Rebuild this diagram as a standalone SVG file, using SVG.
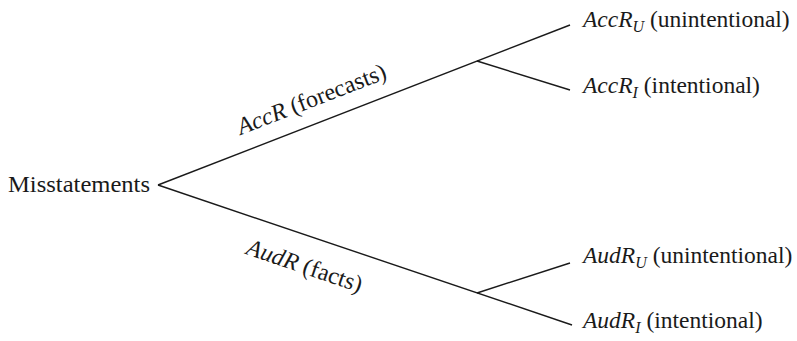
<svg xmlns="http://www.w3.org/2000/svg" width="797" height="341" viewBox="0 0 797 341">
<style>
text{font-family:"Liberation Serif","Times New Roman",serif;font-size:24px;fill:#1a1a1a}
.r{font-size:23.5px}
.i{font-style:italic}
.sub{font-size:16px;font-style:italic}
.ln{stroke:#1a1a1a;stroke-width:1.4;fill:none}
</style>
<rect width="797" height="341" fill="#fff"/>
<g id="connectors">
<line class="ln" x1="158" y1="185" x2="570" y2="25"/>
<line class="ln" x1="477" y1="61" x2="570" y2="90"/>
<line class="ln" x1="158" y1="185" x2="572" y2="325"/>
<line class="ln" x1="477" y1="293" x2="570" y2="263"/>
</g>
<g id="root"><text x="8" y="192" textLength="142" lengthAdjust="spacingAndGlyphs">Misstatements</text></g>
<g id="label-accr"><text transform="translate(317,113) rotate(-21.2)" text-anchor="middle" y="-7"><tspan class="i">AccR</tspan> (forecasts)</text></g>
<g id="label-audr"><text transform="translate(307,259) rotate(18.7)" text-anchor="middle" y="15"><tspan class="i">AudR</tspan> (facts)</text></g>
<g id="accr-u"><text class="r" x="583" y="27"><tspan class="i">AccR</tspan><tspan class="sub" dy="5">U</tspan><tspan dy="-5"> (unintentional)</tspan></text></g>
<g id="accr-i"><text class="r" x="583" y="93"><tspan class="i">AccR</tspan><tspan class="sub" dy="5">I</tspan><tspan dy="-5"> (intentional)</tspan></text></g>
<g id="audr-u"><text class="r" x="583" y="263"><tspan class="i">AudR</tspan><tspan class="sub" dy="5">U</tspan><tspan dy="-5"> (unintentional)</tspan></text></g>
<g id="audr-i"><text class="r" x="583" y="328"><tspan class="i">AudR</tspan><tspan class="sub" dy="5">I</tspan><tspan dy="-5"> (intentional)</tspan></text></g>
</svg>
